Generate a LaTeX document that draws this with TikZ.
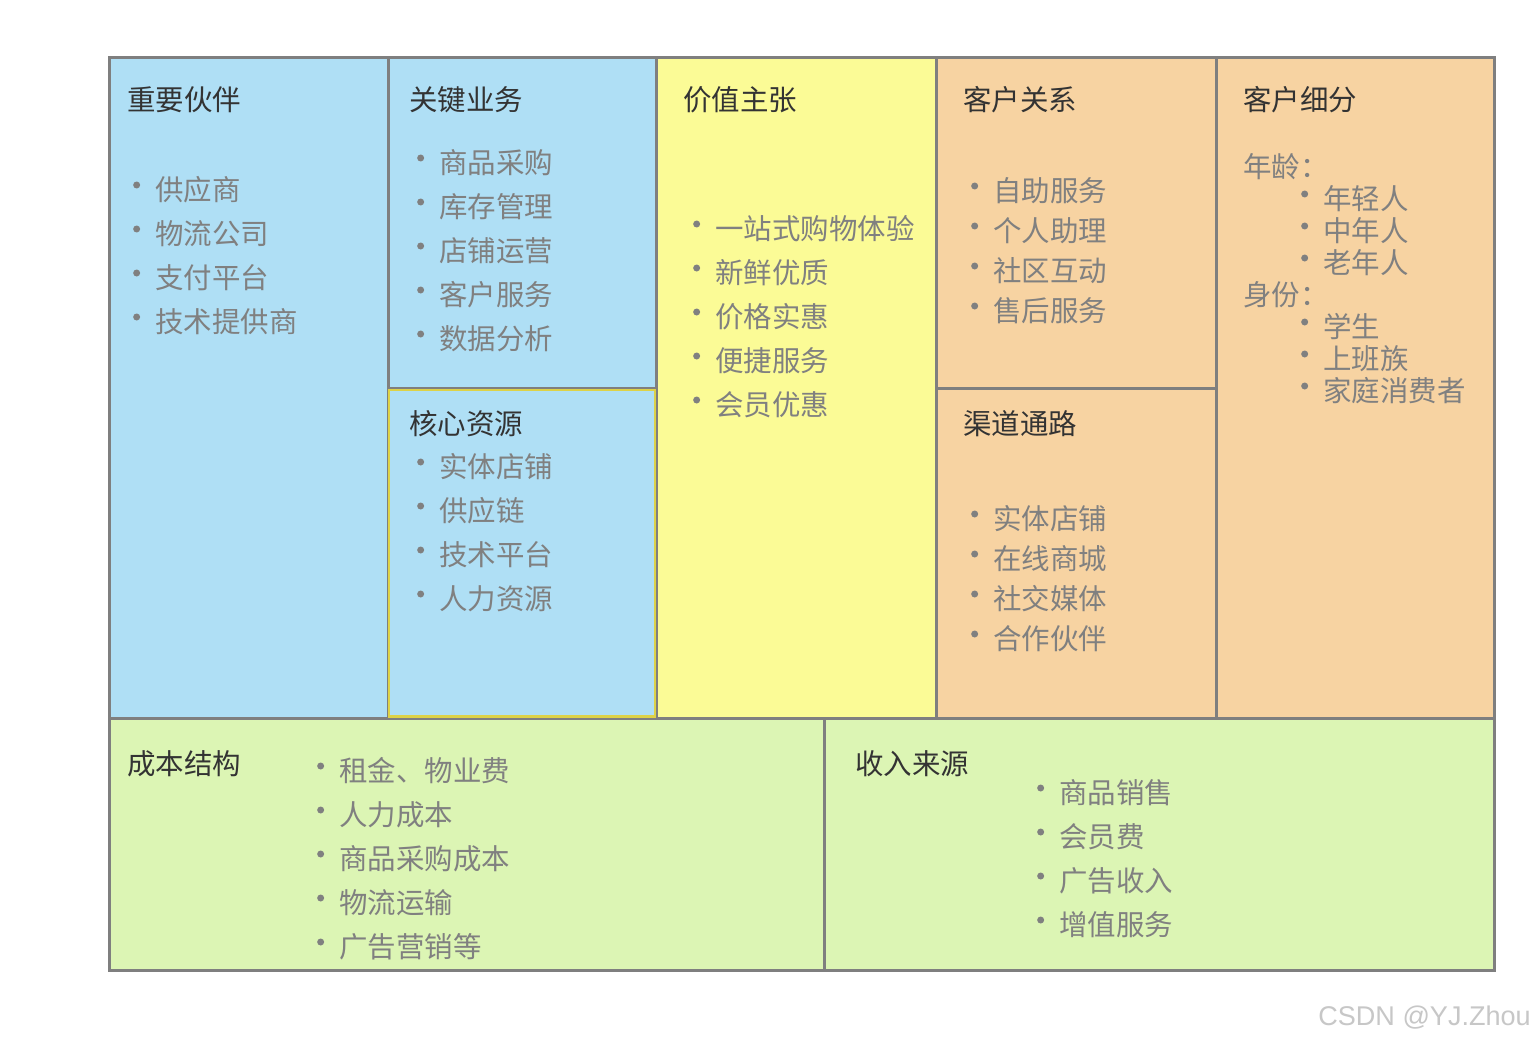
\documentclass[tikz,border=0pt]{standalone}
\usepackage{fontspec}
\setmainfont{Noto Sans CJK SC}
\newfontfamily\markfont{Liberation Sans}
\usepackage{tikz}
\definecolor{cellblue}{HTML}{AFDFF5}
\definecolor{cellyellow}{HTML}{FBFB96}
\definecolor{cellorange}{HTML}{F7D3A2}
\definecolor{cellgreen}{HTML}{DCF5B4}
\definecolor{gridgray}{HTML}{7F7F7F}
\definecolor{krborder}{HTML}{DDD247}
\definecolor{titlegray}{HTML}{333333}
\definecolor{itemgray}{HTML}{808080}

\begin{document}
\begin{tikzpicture}[
  x=0.02cm, y=-0.02cm,
  cell/.style={draw=gridgray, line width=0.06cm},
  title/.style={anchor=west, inner sep=0pt, text=titlegray, font=\fontsize{16.2pt}{18pt}\selectfont},
  sub/.style={anchor=west, inner sep=0pt, text=itemgray, font=\fontsize{16.2pt}{18pt}\selectfont},
  dotmark/.style={circle, fill=itemgray, inner sep=0pt, minimum size=0.14cm, yshift=0.1cm},
  item/.style={sub, label={[dotmark, label distance=0.29cm]left:{}}}
]
\useasboundingbox (0,0) rectangle (1534,1044);

\fill[white] (0,0) rectangle (1534,1044);
\draw[cell, fill=cellblue] (109,58) rectangle (388,718);
\draw[cell, fill=cellblue] (388,58) rectangle (656,388);
\draw[cell, fill=cellyellow] (656,58) rectangle (936,718);
\draw[cell, fill=cellorange] (936,58) rectangle (1216,388);
\draw[cell, fill=cellorange] (936,388) rectangle (1216,718);
\draw[cell, fill=cellorange] (1216,58) rectangle (1494,718);
\draw[cell, fill=cellgreen] (109,718) rectangle (824,970);
\draw[cell, fill=cellgreen] (824,718) rectangle (1494,970);
\draw[draw=krborder, line width=0.05cm, fill=cellblue] (389,390) rectangle (655,716.5);

% key partners
\node[title] (kp) at (127,100) {重要伙伴};
\node[item] (kp1) at (155,190) {供应商};
\node[item] (kp2) at (155,234) {物流公司};
\node[item] (kp3) at (155,278) {支付平台};
\node[item] (kp4) at (155,322) {技术提供商};

% key activities
\node[title] (ka) at (409,100) {关键业务};
\node[item] (ka1) at (439,163) {商品采购};
\node[item] (ka2) at (439,207) {库存管理};
\node[item] (ka3) at (439,251) {店铺运营};
\node[item] (ka4) at (439,295) {客户服务};
\node[item] (ka5) at (439,339) {数据分析};

% key resources
\node[title] (kr) at (409,424) {核心资源};
\node[item] (kr1) at (439,467) {实体店铺};
\node[item] (kr2) at (439,511) {供应链};
\node[item] (kr3) at (439,555) {技术平台};
\node[item] (kr4) at (439,599) {人力资源};

% value propositions
\node[title] (vp) at (683,100) {价值主张};
\node[item] (vp1) at (715,229) {一站式购物体验};
\node[item] (vp2) at (715,273) {新鲜优质};
\node[item] (vp3) at (715,317) {价格实惠};
\node[item] (vp4) at (715,361) {便捷服务};
\node[item] (vp5) at (715,405) {会员优惠};

% customer relationships
\node[title] (cr) at (963,100) {客户关系};
\node[item] (cr1) at (993,191) {自助服务};
\node[item] (cr2) at (993,231) {个人助理};
\node[item] (cr3) at (993,271) {社区互动};
\node[item] (cr4) at (993,311) {售后服务};

% channels
\node[title] (ch) at (963,424) {渠道通路};
\node[item] (ch1) at (993,519) {实体店铺};
\node[item] (ch2) at (993,559) {在线商城};
\node[item] (ch3) at (993,599) {社交媒体};
\node[item] (ch4) at (993,639) {合作伙伴};

% customer segments
\node[title] (cs) at (1243,100) {客户细分};
\node[sub] (age) at (1243,167) {年龄：};
\node[item] (cs1) at (1323,199) {年轻人};
\node[item] (cs2) at (1323,231) {中年人};
\node[item] (cs3) at (1323,263) {老年人};
\node[sub] (role) at (1243,295) {身份：};
\node[item] (cs4) at (1323,327) {学生};
\node[item] (cs5) at (1323,359) {上班族};
\node[item] (cs6) at (1323,391) {家庭消费者};

% cost structure
\node[title] (cost) at (127,764) {成本结构};
\node[item] (cost1) at (339,771) {租金、物业费};
\node[item] (cost2) at (339,815) {人力成本};
\node[item] (cost3) at (339,859) {商品采购成本};
\node[item] (cost4) at (339,903) {物流运输};
\node[item] (cost5) at (339,947) {广告营销等};

% revenue streams
\node[title] (rev) at (855,764) {收入来源};
\node[item] (rev1) at (1059,793) {商品销售};
\node[item] (rev2) at (1059,837) {会员费};
\node[item] (rev3) at (1059,881) {广告收入};
\node[item] (rev4) at (1059,925) {增值服务};

\node[anchor=west, inner sep=0pt, text=black!22, font=\markfont\fontsize{15.4pt}{18pt}\selectfont] (mark) at (1318,1018) {CSDN @YJ.Zhou};
\end{tikzpicture}
\end{document}
